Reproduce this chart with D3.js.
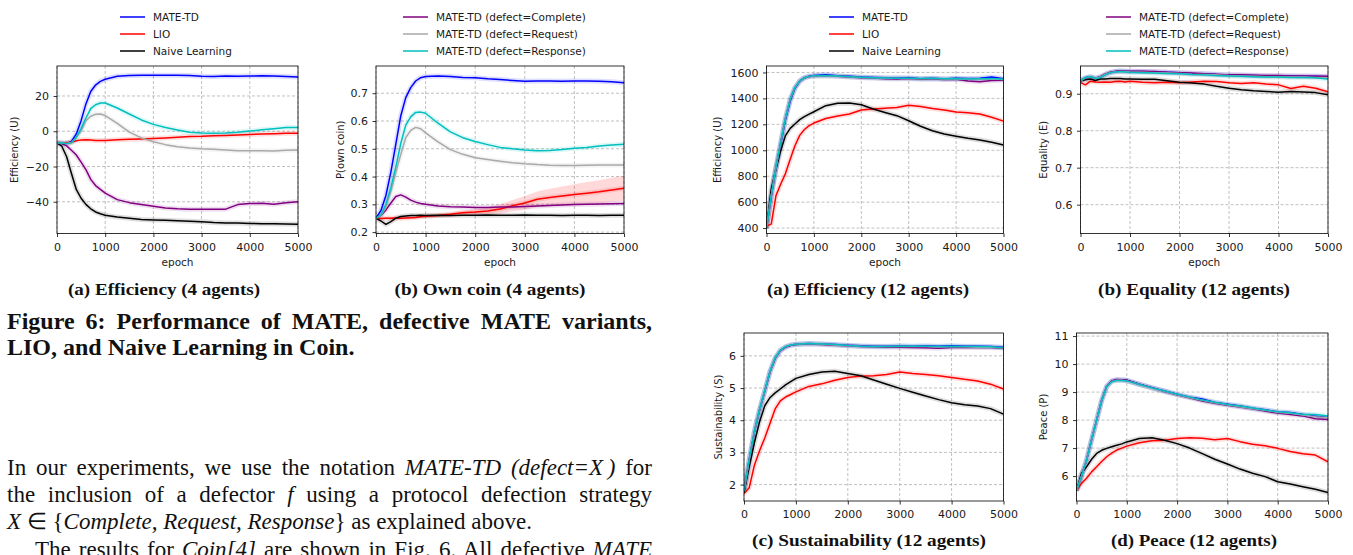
<!DOCTYPE html>
<html>
<head>
<meta charset="utf-8">
<script src="https://cdn.jsdelivr.net/npm/d3@7"></script>
<style>
  body { margin: 0; background: #fff; }
  svg { display: block; }
  text { white-space: pre; }
</style>
</head>
<body>
<svg id="page"></svg>
<script>
const width = 1353;
const height = 555;

// shared x values (epochs) for every series
const epochs = [0,100,200,300,400,500,600,700,800,900,1000,1250,1500,1750,2000,2250,2500,2750,3000,3250,3500,3750,4000,4250,4500,4750,5000];
const xTicks = [0,1000,2000,3000,4000,5000];

// (a) Efficiency, 4 agents
const eff4Mate     = [-6.6,-6.8,-6.9,-5.8,-1.5,6,15.5,22.5,26.2,28.3,29.5,31.2,31.6,31.8,31.8,31.7,31.8,31.6,31.2,31.1,31.3,31.2,31.3,31.4,31.3,31.0,30.8];
const eff4Lio      = [-6.6,-6.6,-6.4,-6.2,-5.4,-4.9,-4.8,-5.0,-5.2,-5.3,-5.3,-4.8,-4.6,-4.4,-4.1,-3.8,-3.4,-3.0,-2.9,-2.6,-2.4,-2.1,-1.8,-1.6,-1.4,-1.2,-1.1];
const eff4Naive    = [-6.6,-8.5,-14.5,-24,-33,-38,-41.5,-44,-45.8,-46.8,-47.6,-48.7,-49.4,-50,-50.3,-50.5,-50.7,-51,-51.3,-51.8,-52,-52.1,-52.3,-52.4,-52.5,-52.6,-52.8];
const eff4Complete = [-6.6,-7.0,-8.3,-10.8,-13.5,-17.5,-21.8,-27.3,-30.8,-33,-35.1,-38.8,-40.5,-41.6,-42.6,-43.5,-44,-44.2,-44.2,-44.3,-44.2,-41.6,-41.0,-40.9,-41.4,-40.6,-40.0];
const eff4Request  = [-6.6,-6.7,-6.9,-6.5,-3.5,0,6,8.5,9.6,9.8,8.9,4.5,-0.5,-3.8,-6,-7.6,-8.8,-9.5,-10,-10.2,-10.6,-11.1,-11.1,-11,-11.2,-10.8,-10.6];
const eff4Response = [-6.6,-6.7,-6.9,-6.6,-3.5,1.5,7.5,12.8,15,16,16,13.2,9.8,6.4,3.9,2.1,0.7,-0.6,-1.0,-1.1,-1.0,-0.6,0.1,0.8,1.4,2.1,2.1];

// (b) Own coin, 4 agents
const coinMate     = [0.25,0.278,0.332,0.416,0.517,0.619,0.684,0.72,0.744,0.756,0.76,0.762,0.76,0.757,0.756,0.752,0.749,0.746,0.743,0.744,0.744,0.743,0.744,0.744,0.743,0.741,0.738];
const coinLio      = [0.25,0.249,0.25,0.25,0.251,0.25,0.251,0.252,0.253,0.255,0.257,0.26,0.264,0.27,0.272,0.276,0.283,0.295,0.305,0.318,0.325,0.33,0.335,0.34,0.345,0.352,0.358];
const coinLioSpread = [0.004,0.004,0.004,0.004,0.004,0.005,0.005,0.005,0.005,0.005,0.006,0.006,0.007,0.008,0.01,0.013,0.017,0.021,0.025,0.028,0.031,0.034,0.037,0.04,0.042,0.044,0.045];
const coinNaive    = [0.25,0.24,0.228,0.238,0.25,0.256,0.258,0.26,0.26,0.261,0.26,0.261,0.26,0.261,0.261,0.262,0.261,0.261,0.262,0.261,0.261,0.26,0.261,0.261,0.26,0.261,0.261];
const coinComplete = [0.25,0.26,0.28,0.305,0.328,0.334,0.326,0.315,0.308,0.303,0.3,0.294,0.291,0.29,0.289,0.289,0.29,0.29,0.292,0.294,0.296,0.298,0.299,0.3,0.301,0.302,0.303];
const coinRequest  = [0.25,0.26,0.29,0.345,0.415,0.48,0.54,0.566,0.577,0.572,0.557,0.525,0.497,0.48,0.468,0.461,0.455,0.45,0.446,0.443,0.441,0.44,0.44,0.441,0.442,0.442,0.442];
const coinResponse = [0.25,0.262,0.3,0.36,0.435,0.52,0.585,0.615,0.631,0.632,0.628,0.592,0.561,0.54,0.526,0.515,0.505,0.5,0.496,0.493,0.494,0.497,0.502,0.505,0.51,0.514,0.516];

// (a) Efficiency, 12 agents
const eff12Mate     = [400,645,860,1050,1235,1380,1478,1532,1560,1572,1576,1582,1575,1570,1565,1562,1560,1560,1560,1552,1556,1550,1555,1553,1556,1565,1552];
const eff12Lio      = [415,430,650,740,820,930,1035,1115,1160,1190,1210,1245,1265,1280,1310,1318,1325,1330,1348,1338,1322,1310,1295,1290,1280,1255,1225];
const eff12Naive    = [400,700,856,997,1113,1169,1203,1236,1259,1279,1297,1344,1362,1364,1351,1318,1292,1267,1228,1185,1151,1126,1108,1092,1079,1062,1041];
const eff12Complete = [400,650,868,1058,1248,1393,1483,1533,1558,1568,1572,1574,1570,1566,1560,1558,1552,1550,1553,1548,1550,1545,1548,1535,1528,1538,1540];
const eff12Request  = [400,650,869,1059,1249,1394,1484,1534,1559,1569,1573,1575,1571,1567,1562,1559,1556,1555,1554,1552,1553,1550,1551,1549,1548,1550,1546];
const eff12Response = [400,650,870,1060,1250,1395,1485,1535,1560,1570,1574,1576,1572,1568,1563,1560,1558,1556,1555,1553,1555,1552,1553,1550,1551,1554,1548];

// (b) Equality, 12 agents
const eqMate     = [0.935,0.943,0.946,0.942,0.945,0.952,0.957,0.96,0.961,0.961,0.96,0.96,0.959,0.958,0.957,0.955,0.954,0.952,0.951,0.95,0.949,0.948,0.948,0.948,0.947,0.947,0.946];
const eqLio      = [0.93,0.924,0.934,0.932,0.931,0.932,0.931,0.933,0.934,0.932,0.934,0.931,0.93,0.931,0.93,0.932,0.934,0.933,0.93,0.928,0.93,0.926,0.924,0.914,0.92,0.915,0.905];
const eqNaive    = [0.935,0.938,0.94,0.936,0.94,0.94,0.941,0.941,0.941,0.94,0.94,0.939,0.939,0.935,0.931,0.929,0.926,0.92,0.915,0.911,0.908,0.906,0.904,0.906,0.905,0.903,0.897];
const eqComplete = [0.935,0.942,0.945,0.941,0.946,0.953,0.958,0.96,0.962,0.961,0.961,0.961,0.96,0.958,0.957,0.956,0.954,0.953,0.951,0.951,0.95,0.949,0.949,0.948,0.948,0.947,0.947];
const eqRequest  = [0.935,0.943,0.946,0.942,0.945,0.952,0.957,0.959,0.96,0.96,0.959,0.958,0.957,0.956,0.955,0.953,0.952,0.951,0.949,0.948,0.947,0.946,0.946,0.945,0.945,0.944,0.943];
const eqResponse = [0.935,0.944,0.946,0.941,0.944,0.951,0.957,0.959,0.96,0.959,0.958,0.957,0.956,0.955,0.954,0.952,0.951,0.949,0.948,0.947,0.946,0.945,0.945,0.944,0.944,0.943,0.94];

// (c) Sustainability, 12 agents
const sustMate     = [1.8,2.76,3.64,4.32,4.9,5.5,5.92,6.16,6.27,6.33,6.36,6.38,6.37,6.35,6.33,6.31,6.3,6.3,6.31,6.3,6.31,6.3,6.31,6.3,6.3,6.29,6.27];
const sustLio      = [1.72,1.9,2.6,3.05,3.45,3.9,4.35,4.6,4.72,4.8,4.88,5.05,5.13,5.24,5.33,5.37,5.38,5.42,5.5,5.45,5.42,5.38,5.33,5.27,5.22,5.12,4.97];
const sustNaive    = [1.75,2.55,3.3,3.95,4.45,4.7,4.85,4.97,5.1,5.2,5.3,5.42,5.5,5.52,5.45,5.38,5.25,5.12,4.99,4.87,4.75,4.64,4.54,4.48,4.44,4.36,4.19];
const sustComplete = [1.8,2.76,3.64,4.32,4.9,5.5,5.92,6.16,6.27,6.33,6.35,6.37,6.35,6.33,6.31,6.29,6.28,6.27,6.27,6.26,6.25,6.24,6.26,6.27,6.26,6.26,6.24];
const sustRequest  = [1.8,2.77,3.65,4.33,4.91,5.51,5.93,6.17,6.28,6.34,6.36,6.38,6.37,6.34,6.32,6.3,6.29,6.29,6.3,6.29,6.29,6.28,6.28,6.28,6.27,6.27,6.25];
const sustResponse = [1.8,2.78,3.66,4.34,4.92,5.52,5.94,6.18,6.29,6.34,6.36,6.38,6.37,6.35,6.32,6.3,6.29,6.29,6.3,6.3,6.3,6.29,6.3,6.29,6.29,6.28,6.25];

// (d) Peace, 12 agents
const peaceMate     = [5.48,6.0,6.57,7.3,8.0,8.7,9.2,9.4,9.44,9.43,9.42,9.28,9.16,9.04,8.92,8.82,8.75,8.63,8.57,8.5,8.42,8.37,8.29,8.27,8.2,8.14,8.09];
const peaceLio      = [5.48,5.74,5.92,6.15,6.33,6.52,6.69,6.82,6.93,7.0,7.07,7.19,7.26,7.28,7.34,7.37,7.35,7.3,7.34,7.23,7.14,7.08,6.99,6.88,6.8,6.75,6.51];
const peaceNaive    = [5.48,6.1,6.33,6.6,6.81,6.92,6.99,7.05,7.1,7.15,7.22,7.34,7.37,7.28,7.16,7.0,6.8,6.6,6.43,6.25,6.1,5.98,5.8,5.72,5.62,5.53,5.41];
const peaceComplete = [5.48,6.0,6.57,7.3,8.0,8.7,9.2,9.4,9.45,9.44,9.42,9.28,9.15,9.02,8.9,8.8,8.68,8.6,8.53,8.47,8.4,8.32,8.25,8.2,8.15,8.05,8.02];
const peaceRequest  = [5.48,6.0,6.57,7.3,8.0,8.7,9.2,9.38,9.42,9.42,9.4,9.27,9.14,9.03,8.91,8.81,8.71,8.62,8.55,8.48,8.41,8.35,8.28,8.24,8.18,8.12,8.08];
const peaceResponse = [5.48,6.0,6.57,7.3,8.0,8.7,9.2,9.37,9.41,9.41,9.4,9.27,9.15,9.04,8.92,8.82,8.72,8.64,8.56,8.5,8.43,8.36,8.3,8.26,8.2,8.2,8.15];

const methodNames = ["MATE-TD", "LIO", "Naive Learning"];
const defectNames = ["MATE-TD (defect=Complete)", "MATE-TD (defect=Request)", "MATE-TD (defect=Response)"];
const colors = { mate: "#0000ff", lio: "#ff0000", naive: "#000000", complete: "#800080", request: "#a9a9a9", response: "#00bfbf" };

const series = (m, l, n, c, q, r) => [
  { values: m, color: colors.mate },
  { values: l, color: colors.lio },
  { values: n, color: colors.naive },
  { values: c, color: colors.complete },
  { values: q, color: colors.request },
  { values: r, color: colors.response }
];

const panels = [
  { x0: 57, x1: 298, y0: 66, y1: 233.5, domain: [-58, 37], ticks: [-40, -20, 0, 20], fmt: d3.format("d"),
    ylabel: "Efficiency (U)", labelX: 14, epoch: true,
    lines: series(eff4Mate, eff4Lio, eff4Naive, eff4Complete, eff4Request, eff4Response),
    caption: "(a) Efficiency (4 agents)", capX: 164, capY: 295, capLen: 192,
    legend: { names: methodNames, cols: [colors.mate, colors.lio, colors.naive], x: 120, y: 17 } },
  { x0: 376, x1: 624, y0: 66, y1: 233.5, domain: [0.195, 0.798], ticks: [0.2, 0.3, 0.4, 0.5, 0.6, 0.7], fmt: d3.format(".1f"),
    ylabel: "P(own coin)", labelX: 340, epoch: true,
    lines: series(coinMate, coinLio, coinNaive, coinComplete, coinRequest, coinResponse),
    spread: { values: coinLio, width: coinLioSpread, color: colors.lio },
    caption: "(b) Own coin (4 agents)", capX: 490, capY: 295, capLen: 191,
    legend: { names: defectNames, cols: [colors.complete, colors.request, colors.response], x: 403, y: 17 } },
  { x0: 766.5, x1: 1003.5, y0: 66, y1: 233.5, domain: [358, 1650], ticks: d3.range(400, 1601, 200), fmt: d3.format("d"),
    ylabel: "Efficiency (U)", labelX: 717, epoch: true,
    lines: series(eff12Mate, eff12Lio, eff12Naive, eff12Complete, eff12Request, eff12Response),
    caption: "(a) Efficiency (12 agents)", capX: 868, capY: 295, capLen: 202,
    legend: { names: methodNames, cols: [colors.mate, colors.lio, colors.naive], x: 829, y: 17 } },
  { x0: 1080.5, x1: 1328, y0: 66, y1: 233.5, domain: [0.522, 0.975], ticks: [0.6, 0.7, 0.8, 0.9], fmt: d3.format(".1f"),
    ylabel: "Equality (E)", labelX: 1043, epoch: true,
    lines: series(eqMate, eqLio, eqNaive, eqComplete, eqRequest, eqResponse),
    caption: "(b) Equality (12 agents)", capX: 1194, capY: 295, capLen: 192,
    legend: { names: defectNames, cols: [colors.complete, colors.request, colors.response], x: 1106, y: 17 } },
  { x0: 744, x1: 1003.5, y0: 333, y1: 501, domain: [1.49, 6.71], ticks: [2, 3, 4, 5, 6], fmt: d3.format("d"),
    ylabel: "Sustainability (S)", labelX: 718, epoch: false,
    lines: series(sustMate, sustLio, sustNaive, sustComplete, sustRequest, sustResponse),
    caption: "(c) Sustainability (12 agents)", capX: 869, capY: 546, capLen: 234 },
  { x0: 1076.5, x1: 1328, y0: 333, y1: 501, domain: [5.11, 11.11], ticks: [6, 7, 8, 9, 10, 11], fmt: d3.format("d"),
    ylabel: "Peace (P)", labelX: 1043, epoch: false,
    lines: series(peaceMate, peaceLio, peaceNaive, peaceComplete, peaceRequest, peaceResponse),
    caption: "(d) Peace (12 agents)", capX: 1194, capY: 546, capLen: 166 }
];

const svg = d3.select("#page")
  .attr("width", width)
  .attr("height", height);

svg.append("rect").attr("width", width).attr("height", height).attr("fill", "#fff");

const sans = "DejaVu Sans";
const serif = "Liberation Serif";

panels.forEach((p, i) => {
  const x = d3.scaleLinear().domain([0, 5000]).range([p.x0, p.x1]);
  const y = d3.scaleLinear().domain(p.domain).range([p.y1, p.y0]);
  const g = svg.append("g");

  g.append("clipPath").attr("id", "clip" + i)
    .append("rect").attr("x", p.x0).attr("y", p.y0)
    .attr("width", p.x1 - p.x0).attr("height", p.y1 - p.y0);

  // dashed grid
  g.append("g").selectAll("line").data(xTicks).join("line")
    .attr("x1", d => x(d)).attr("x2", d => x(d))
    .attr("y1", p.y0).attr("y2", p.y1);
  g.append("g").selectAll("line").data(p.ticks).join("line")
    .attr("x1", p.x0).attr("x2", p.x1)
    .attr("y1", d => y(d)).attr("y2", d => y(d));
  g.selectAll("g line")
    .attr("stroke", "#b0b0b0").attr("stroke-width", 0.8).attr("stroke-dasharray", "3,2");

  const plot = g.append("g").attr("clip-path", `url(#clip${i})`);
  const line = d3.line().x((d, k) => x(epochs[k])).y(d => y(d));

  if (p.spread) {
    const area = d3.area()
      .x((d, k) => x(epochs[k]))
      .y0((d, k) => y(d - p.spread.width[k]))
      .y1((d, k) => y(d + p.spread.width[k]));
    plot.append("path").datum(p.spread.values)
      .attr("d", area).attr("fill", p.spread.color).attr("fill-opacity", 0.15);
  }

  // faint band under each curve, then the curve itself
  p.lines.forEach(s => {
    plot.append("path").datum(s.values)
      .attr("d", line).attr("fill", "none")
      .attr("stroke", s.color).attr("stroke-opacity", 0.13).attr("stroke-width", 5)
      .attr("stroke-linejoin", "round");
  });
  p.lines.forEach(s => {
    plot.append("path").datum(s.values)
      .attr("d", line).attr("fill", "none")
      .attr("stroke", s.color).attr("stroke-width", 1.5)
      .attr("stroke-linejoin", "round");
  });

  // frame
  g.append("rect")
    .attr("x", p.x0).attr("y", p.y0)
    .attr("width", p.x1 - p.x0).attr("height", p.y1 - p.y0)
    .attr("fill", "none").attr("stroke", "#000").attr("stroke-width", 0.8);

  const xAxis = g.append("g")
    .attr("transform", `translate(0,${p.y1})`)
    .call(d3.axisBottom(x).tickValues(xTicks).tickSize(3.5).tickPadding(6).tickFormat(d3.format("d")));
  const yAxis = g.append("g")
    .attr("transform", `translate(${p.x0},0)`)
    .call(d3.axisLeft(y).tickValues(p.ticks).tickSize(3.5).tickPadding(4.5).tickFormat(p.fmt));
  [xAxis, yAxis].forEach(a => {
    a.select(".domain").remove();
    a.attr("font-family", sans).attr("font-size", 11);
    a.selectAll("line").attr("stroke", "#000").attr("stroke-width", 0.8);
    a.selectAll("text").attr("fill", "#1a1a1a");
  });

  g.append("text")
    .attr("transform", `translate(${p.labelX},${(p.y0 + p.y1) / 2}) rotate(-90)`)
    .attr("text-anchor", "middle")
    .attr("dominant-baseline", "central")
    .attr("font-family", sans).attr("font-size", 10)
    .attr("fill", "#1a1a1a")
    .text(p.ylabel);

  if (p.epoch) {
    g.append("text")
      .attr("x", (p.x0 + p.x1) / 2).attr("y", 266)
      .attr("text-anchor", "middle")
      .attr("font-family", sans).attr("font-size", 10.5)
      .attr("fill", "#1a1a1a")
      .text("epoch");
  }

  if (p.legend) {
    const lg = g.append("g").attr("transform", `translate(${p.legend.x},${p.legend.y})`);
    p.legend.names.forEach((name, k) => {
      lg.append("line")
        .attr("x1", 0).attr("x2", 25).attr("y1", k * 17).attr("y2", k * 17)
        .attr("stroke", p.legend.cols[k]).attr("stroke-width", 1.5);
      lg.append("text")
        .attr("x", 33).attr("y", k * 17)
        .attr("dominant-baseline", "central")
        .attr("font-family", sans).attr("font-size", 10.5)
        .attr("fill", "#1a1a1a")
        .text(name);
    });
  }

  svg.append("text")
    .attr("x", p.capX).attr("y", p.capY)
    .attr("text-anchor", "middle")
    .attr("font-family", serif).attr("font-weight", "bold").attr("font-size", 17)
    .attr("textLength", p.capLen).attr("lengthAdjust", "spacingAndGlyphs")
    .attr("fill", "#111")
    .text(p.caption);
});

// page text around the figure
function textLine(parts, x, y, opts) {
  const t = svg.append("text")
    .attr("x", x).attr("y", y)
    .attr("font-family", serif)
    .attr("font-size", opts.size)
    .attr("font-weight", opts.bold ? "bold" : "normal")
    .attr("fill", "#111");
  parts.forEach(([s, it]) => t.append("tspan").attr("font-style", it ? "italic" : "normal").text(s));
  if (opts.span) {
    const natural = t.node().getComputedTextLength();
    const gaps = parts.map(d => d[0]).join("").split(" ").length - 1;
    t.attr("word-spacing", (opts.span - natural) / gaps);
  }
  return t;
}

textLine([["Figure 6: Performance of MATE, defective MATE variants,"]], 7, 329, { size: 24, bold: true, span: 645 });
textLine([["LIO, and Naive Learning in Coin."]], 7, 355, { size: 24, bold: true });

textLine([["In our experiments, we use the notation "], ["MATE-TD (defect=X\u2009)", true], [" for"]], 7, 475, { size: 23, span: 645 });
textLine([["the inclusion of a defector "], ["f", true], [" using a protocol defection strategy"]], 7, 502, { size: 23, span: 645 });
textLine([["X", true], [" ∈ {"], ["Complete, Request, Response", true], ["} as explained above."]], 7, 529, { size: 23 });
textLine([["The results for "], ["Coin[4]", true], [" are shown in Fig. 6. All defective "], ["MATE", true]], 35, 557, { size: 23, span: 617 });
</script>
</body>
</html>
